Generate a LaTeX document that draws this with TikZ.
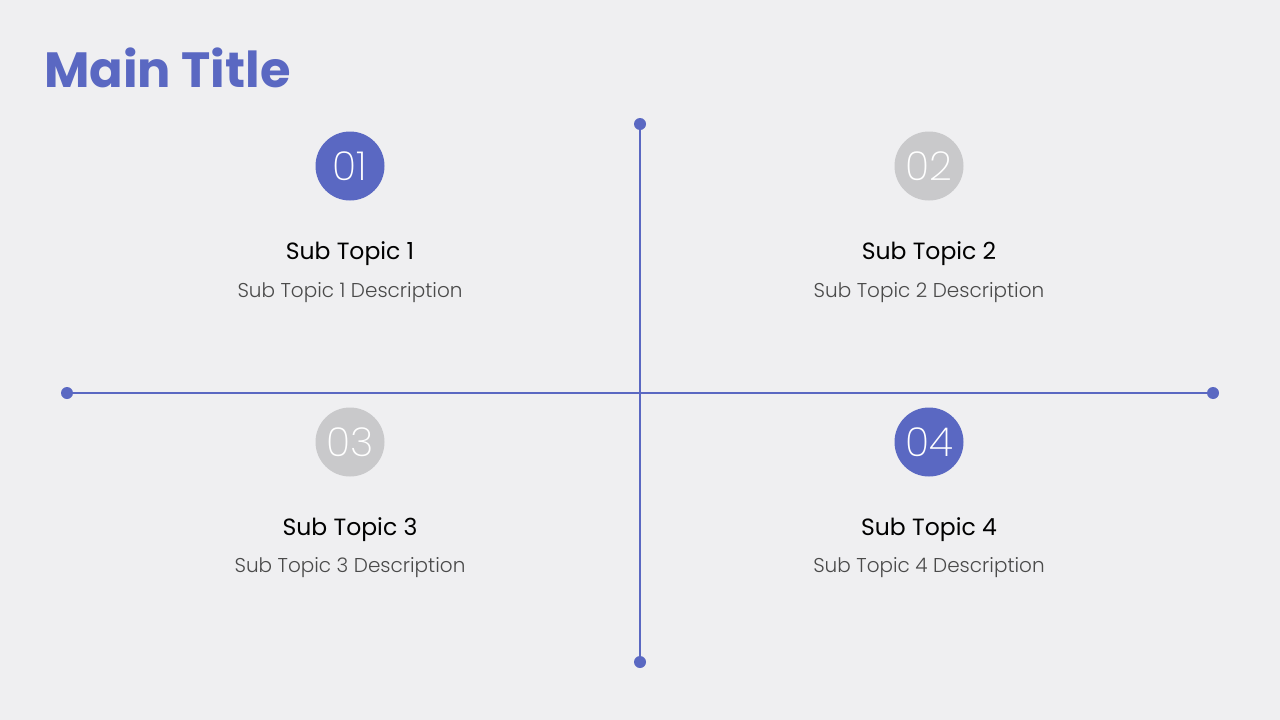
\documentclass[tikz,border=0pt]{standalone}
\usepackage{fontspec}
\setmainfont{Poppins}
\newfontfamily\lightfont{Poppins Light}
\newfontfamily\thinfont{Poppins ExtraLight}
\newfontfamily\boldfont{Poppins Bold}
\newfontfamily\medfont{Poppins}
\definecolor{bg}{HTML}{EFEFF1}
\definecolor{accent}{HTML}{5A68C2}
\definecolor{mute}{HTML}{C9C9CB}
\definecolor{desc}{HTML}{4A4A4A}
\tikzset{
  axis/.style={draw=accent, line width=2.8pt},
  enddot/.style={circle, fill=accent, inner sep=0pt, minimum size=12pt},
  numcircle/.style={circle, inner sep=0pt, minimum size=69pt, text=white, font=\thinfont\fontsize{40}{40}\selectfont},
  topic/.style={font=\medfont\fontsize{23.5}{28}\selectfont, text=black, inner sep=0pt, anchor=base},
  descr/.style={font=\lightfont\fontsize{20}{24}\selectfont, text=desc, inner sep=0pt, anchor=base},
}
\begin{document}
\begin{tikzpicture}[x=1pt,y=-1pt]
\fill[bg] (0,0) rectangle (1280,720);
\useasboundingbox (0,0) rectangle (1280,720);
\node[anchor=base west, inner sep=0pt, text=accent, font=\boldfont\fontsize{49.5}{54}\selectfont] (title) at (44,87) {Main Title};
% axes
\node[enddot] (vt) at (640,124) {};
\node[enddot] (vb) at (640,662) {};
\node[enddot] (hl) at (67,393) {};
\node[enddot] (hr) at (1213,393) {};
\draw[axis] (vt.center) -- (vb.center);
\draw[axis] (hl.center) -- (hr.center);
% circles
\node[numcircle, fill=accent] (c1) at (350,166) {01};
\node[numcircle, fill=mute] (c2) at (929,166) {02};
\node[numcircle, fill=mute] (c3) at (350,442) {03};
\node[numcircle, fill=accent] (c4) at (929,442) {04};
% texts
\node[topic] (t1) at (350,259) {Sub Topic 1};
\node[descr] (d1) at (350,297) {Sub Topic 1 Description};
\node[topic] (t2) at (929,259) {Sub Topic 2};
\node[descr] (d2) at (929,297) {Sub Topic 2 Description};
\node[topic] (t3) at (350,535) {Sub Topic 3};
\node[descr] (d3) at (350,572) {Sub Topic 3 Description};
\node[topic] (t4) at (929,535) {Sub Topic 4};
\node[descr] (d4) at (929,572) {Sub Topic 4 Description};
\end{tikzpicture}
\end{document}
